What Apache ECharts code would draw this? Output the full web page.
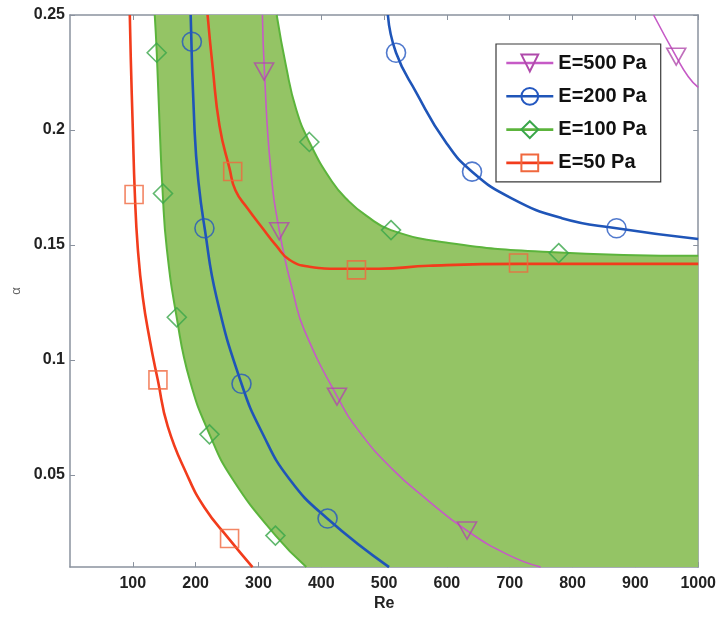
<!DOCTYPE html>
<html>
<head>
<meta charset="utf-8">
<script src="https://cdn.jsdelivr.net/npm/echarts@6/dist/echarts.min.js"></script>
<style>
  html, body { margin: 0; padding: 0; background: #ffffff; }
  #chart { width: 719px; height: 617px; }
</style>
</head>
<body>
<div id="chart"></div>
<script>
// Axis ranges and tick labels
const reRange = [0, 1000];
const alphaRange = [0.01, 0.25];
const reTicks = [100, 200, 300, 400, 500, 600, 700, 800, 900, 1000];
const alphaTicks = [0.05, 0.1, 0.15, 0.2, 0.25];

// Neutral curves [Re, alpha] for each elastic modulus
const e500Low = [[306.3, 0.25], [309.5, 0.2254], [319.0, 0.1845], [333.3, 0.1561], [357.1, 0.1272], [373.0, 0.1130], [425.4, 0.0841], [460.3, 0.0690], [512.7, 0.0527], [566.7, 0.0397], [631.7, 0.0259], [698.4, 0.0152], [749.2, 0.0100]];
const e500High = [[929, 0.25], [965, 0.2319], [984, 0.2233], [1000, 0.2185]];
const e500Marks = [[309, 0.2254], [333, 0.156], [425, 0.0841], [632, 0.0259], [965, 0.2319]];

const e200Low = [[192.1, 0.25], [198.4, 0.1992], [204.8, 0.1767], [214.3, 0.1574], [233.3, 0.1272], [273.0, 0.0897], [306.3, 0.0682], [349.2, 0.0483], [409.5, 0.0311], [507.9, 0.0100]];
const e200High = [[506, 0.25], [519, 0.2336], [551, 0.2164], [598, 0.1948], [640, 0.1819], [703, 0.1703], [783, 0.1617], [870, 0.1573], [1000, 0.1526]];
const e200Marks = [[194, 0.2384], [214, 0.1573], [273, 0.0897], [410, 0.0311], [519, 0.2336], [640, 0.1819], [870, 0.1573]];

const e100Low = [[134.9, 0.25], [138.1, 0.2336], [142.9, 0.2004], [147.6, 0.1724], [154.0, 0.1487], [169.8, 0.1186], [190.5, 0.0914], [222.2, 0.0677], [258.7, 0.0483], [327.0, 0.0238], [376.2, 0.0100]];
const e100High = [[329, 0.25], [344, 0.2276], [360, 0.209], [381, 0.1948], [417, 0.1776], [444, 0.169], [471, 0.1629], [511, 0.1565], [603, 0.1509], [762, 0.147], [1000, 0.1453]];
const e100Marks = [[138, 0.2336], [148, 0.1724], [170, 0.1186], [222, 0.0677], [327, 0.0237], [381, 0.1948], [511, 0.1565], [778, 0.1465]];

const e50Low = [[95.2, 0.25], [96.8, 0.2306], [100.0, 0.2004], [103.2, 0.1724], [107.9, 0.1487], [115.9, 0.1272], [127.0, 0.1087], [139.7, 0.0914], [155.6, 0.0712], [185.7, 0.0505], [214.3, 0.0358], [252.4, 0.0225], [290.5, 0.0100]];
const e50High = [[219.0, 0.25], [227.0, 0.2276], [238.1, 0.2017], [254.0, 0.1832], [263.5, 0.1737], [282.5, 0.1660], [306.3, 0.1574], [328.6, 0.1496], [349.2, 0.1436], [381.0, 0.1406], [428.6, 0.1397], [492.1, 0.1397], [571.4, 0.1410], [714.3, 0.1418], [1000, 0.1418]];
const e50Marks = [[102, 0.172], [140, 0.0914], [254, 0.0224], [259, 0.182], [456, 0.1392], [714, 0.1422]];

const names = ['E=500 Pa', 'E=200 Pa', 'E=100 Pa', 'E=50 Pa'];

const FONT = '"Liberation Sans", Arial, Helvetica, sans-serif';
const AXIS_COLOR = '#8a929e';
const SMOOTH = 0.5;

// Same bezier construction the line series uses for smooth curves,
// so the shaded band edges follow the drawn boundary curves.
function bezierSegments(pts, smooth) {
  const segs = [];
  let prevX = pts[0][0], prevY = pts[0][1];
  let cpx0 = prevX, cpy0 = prevY;
  for (let i = 1; i < pts.length; i++) {
    const x = pts[i][0], y = pts[i][1];
    let cpx1, cpy1, nextCpx0, nextCpy0;
    if (i === pts.length - 1) {
      cpx1 = x; cpy1 = y;
    } else {
      const nextX = pts[i + 1][0], nextY = pts[i + 1][1];
      let vx = nextX - prevX, vy = nextY - prevY;
      const lenPrev = Math.hypot(x - prevX, y - prevY);
      const lenNext = Math.hypot(nextX - x, nextY - y);
      const ratio = lenNext / (lenNext + lenPrev);
      nextCpx0 = x + vx * smooth * ratio;
      nextCpy0 = y + vy * smooth * ratio;
      nextCpx0 = Math.max(Math.min(nextCpx0, Math.max(nextX, x)), Math.min(nextX, x));
      nextCpy0 = Math.max(Math.min(nextCpy0, Math.max(nextY, y)), Math.min(nextY, y));
      vx = nextCpx0 - x; vy = nextCpy0 - y;
      cpx1 = x - vx * lenPrev / lenNext;
      cpy1 = y - vy * lenPrev / lenNext;
      cpx1 = Math.max(Math.min(cpx1, Math.max(prevX, x)), Math.min(prevX, x));
      cpy1 = Math.max(Math.min(cpy1, Math.max(prevY, y)), Math.min(prevY, y));
      vx = x - cpx1; vy = y - cpy1;
      nextCpx0 = x + vx * lenNext / lenPrev;
      nextCpy0 = y + vy * lenNext / lenPrev;
    }
    segs.push([prevX, prevY, cpx0, cpy0, cpx1, cpy1, x, y]);
    cpx0 = nextCpx0; cpy0 = nextCpy0;
    prevX = x; prevY = y;
  }
  return segs;
}

// Shaded E=100 Pa band: between the low-Re curve and the high-Re curve,
// closed along the bottom and right edges of the plot.
function renderBand(params, api) {
  const low = bezierSegments(e100Low.map(p => api.coord(p)), SMOOTH);
  const high = bezierSegments(e100High.map(p => api.coord(p)), SMOOTH);
  const corner = api.coord([reRange[1], alphaRange[0]]);
  let d = 'M' + low[0][0] + ' ' + low[0][1];
  low.forEach(s => { d += ' C' + s[2] + ' ' + s[3] + ' ' + s[4] + ' ' + s[5] + ' ' + s[6] + ' ' + s[7]; });
  d += ' L' + corner[0] + ' ' + corner[1];
  const last = high[high.length - 1];
  d += ' L' + last[6] + ' ' + last[7];
  for (let i = high.length - 1; i >= 0; i--) {
    const s = high[i];
    d += ' C' + s[4] + ' ' + s[5] + ' ' + s[2] + ' ' + s[3] + ' ' + s[0] + ' ' + s[1];
  }
  d += ' Z';
  return { type: 'path', shape: { pathData: d }, style: { fill: '#94c465' } };
}

const styles = {
  'E=500 Pa': { line: '#c65ac6', mark: '#b04aab', width: 1.6, symbol: 'triangle', size: [19, 17], rotate: 180 },
  'E=200 Pa': { line: '#1f55b8', mark: '#2458c0', width: 2.6, symbol: 'circle', size: 19, rotate: 0 },
  'E=100 Pa': { line: '#5cb43c', mark: '#3aa64a', width: 2, symbol: 'diamond', size: 19, rotate: 0 },
  'E=50 Pa':  { line: '#f23c1c', mark: '#f0683e', width: 2.6, symbol: 'rect', size: 18, rotate: 0 }
};

function curve(name, data) {
  const s = styles[name];
  return {
    type: 'line', name: name, data: data, smooth: SMOOTH, showSymbol: false,
    symbol: s.symbol, symbolSize: s.size, symbolRotate: s.rotate,
    lineStyle: { color: s.line, width: s.width },
    itemStyle: { color: 'rgba(0,0,0,0)', borderColor: s.mark, borderWidth: 1.6 },
    silent: true, z: 2
  };
}
function marks(name, data) {
  const s = styles[name];
  return {
    type: 'scatter', name: name, data: data,
    symbol: s.symbol, symbolSize: s.size, symbolRotate: s.rotate,
    itemStyle: { color: 'rgba(0,0,0,0)', borderColor: s.mark, borderWidth: 1.6 },
    silent: true, z: 3
  };
}

const tickLabelStyle = { fontFamily: FONT, fontSize: 16, fontWeight: 'bold', color: '#222' };

const option = {
  animation: false,
  backgroundColor: '#ffffff',
  grid: { left: 70, right: 19, top: 15, bottom: 45 },
  legend: {
    data: names.map(n => ({ name: n, lineStyle: { width: 2.6 } })),
    orient: 'vertical',
    left: 496, top: 44,
    itemWidth: 47, itemHeight: 21, itemGap: 13.3,
    padding: [9, 14, 9, 9],
    backgroundColor: '#ffffff',
    borderColor: '#3a3a3a', borderWidth: 1.2,
    textStyle: { fontFamily: FONT, fontSize: 20, fontWeight: 'bold', color: '#111' }
  },
  xAxis: [
    {
      type: 'value', min: reRange[0], max: reRange[1], position: 'bottom',
      name: 'Re', nameLocation: 'middle', nameGap: 19,
      nameTextStyle: { fontFamily: FONT, fontSize: 16, fontWeight: 'bold', color: '#222' },
      axisLine: { show: true, onZero: false, lineStyle: { color: AXIS_COLOR, width: 1.5 } },
      axisTick: { show: true, inside: true, length: 5, customValues: reTicks, lineStyle: { color: AXIS_COLOR } },
      axisLabel: Object.assign({ margin: 8, customValues: reTicks, formatter: v => String(v) }, tickLabelStyle),
      splitLine: { show: false }
    },
    {
      type: 'value', min: reRange[0], max: reRange[1], position: 'top',
      axisLine: { show: true, onZero: false, lineStyle: { color: AXIS_COLOR, width: 1.5 } },
      axisTick: { show: true, inside: true, length: 5, customValues: reTicks, lineStyle: { color: AXIS_COLOR } },
      axisLabel: { show: false },
      splitLine: { show: false }
    }
  ],
  yAxis: [
    {
      type: 'value', min: alphaRange[0], max: alphaRange[1], position: 'left',
      name: 'α', nameLocation: 'middle', nameGap: 45, nameRotate: 90,
      nameTextStyle: { fontFamily: FONT, fontSize: 13, color: '#666' },
      axisLine: { show: true, onZero: false, lineStyle: { color: AXIS_COLOR, width: 1.5 } },
      axisTick: { show: true, inside: true, length: 5, customValues: alphaTicks, lineStyle: { color: AXIS_COLOR } },
      axisLabel: Object.assign({ margin: 5, customValues: alphaTicks, formatter: v => String(v) }, tickLabelStyle),
      splitLine: { show: false }
    },
    {
      type: 'value', min: alphaRange[0], max: alphaRange[1], position: 'right',
      axisLine: { show: true, onZero: false, lineStyle: { color: AXIS_COLOR, width: 1.5 } },
      axisTick: { show: true, inside: true, length: 5, customValues: alphaTicks, lineStyle: { color: AXIS_COLOR } },
      axisLabel: { show: false },
      splitLine: { show: false }
    }
  ],
  series: [
    {
      type: 'custom', name: 'band', renderItem: renderBand,
      data: [[reRange[1], alphaRange[0]]], silent: true, z: 1, clip: true
    },
    curve('E=500 Pa', e500Low), curve('E=500 Pa', e500High),
    curve('E=200 Pa', e200Low), curve('E=200 Pa', e200High),
    curve('E=100 Pa', e100Low), curve('E=100 Pa', e100High),
    curve('E=50 Pa', e50Low), curve('E=50 Pa', e50High),
    marks('E=100 Pa', e100Marks),
    marks('E=500 Pa', e500Marks),
    marks('E=200 Pa', e200Marks),
    marks('E=50 Pa', e50Marks)
  ]
};

const chart = echarts.init(document.getElementById('chart'), null, { renderer: 'canvas' });
chart.setOption(option);
</script>
</body>
</html>
